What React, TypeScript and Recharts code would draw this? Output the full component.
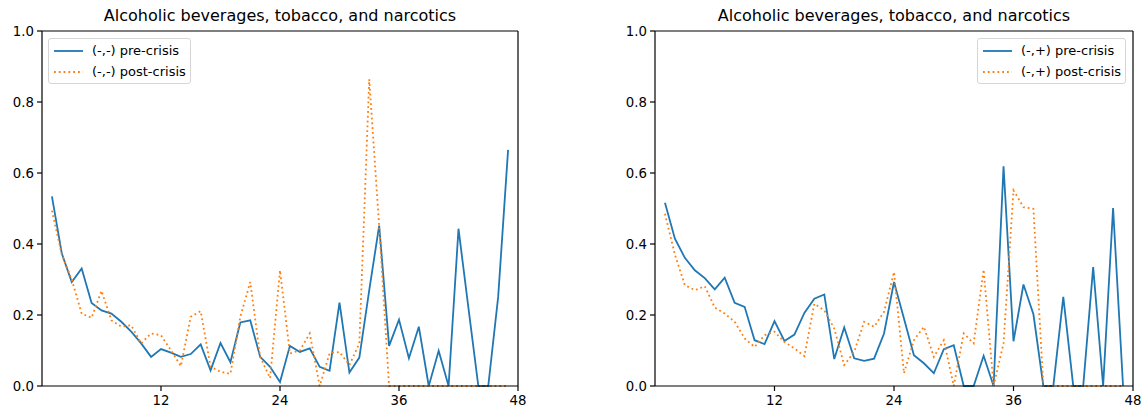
import { LineChart, Line, XAxis, YAxis, ReferenceLine } from "recharts"

// months since shock
const steps = [
  1, 2, 3, 4, 5, 6, 7, 8, 9, 10, 11, 12, 13, 14, 15, 16, 17, 18, 19, 20, 21, 22, 23, 24,
  25, 26, 27, 28, 29, 30, 31, 32, 33, 34, 35, 36, 37, 38, 39, 40, 41, 42, 43, 44, 45, 46, 47,
]

const negNegPre = [
  0.534, 0.373, 0.293, 0.331, 0.234, 0.213, 0.204, 0.181, 0.153, 0.12, 0.082, 0.104, 0.094, 0.082,
  0.09, 0.117, 0.044, 0.121, 0.067, 0.179, 0.185, 0.082, 0.054, 0.011, 0.113, 0.096, 0.106, 0.054,
  0.043, 0.235, 0.038, 0.08, 0.27, 0.452, 0.113, 0.187, 0.078, 0.167, 0, 0.099, 0, 0.443, 0.22, 0,
  0, 0.251, 0.665,
]
const negNegPost = [
  0.494, 0.37, 0.3, 0.204, 0.192, 0.268, 0.185, 0.167, 0.171, 0.12, 0.148, 0.143, 0.101, 0.056,
  0.195, 0.211, 0.054, 0.04, 0.034, 0.195, 0.293, 0.082, 0.022, 0.326, 0.092, 0.1, 0.148, 0, 0.092,
  0.096, 0.059, 0.12, 0.864, 0.45, 0, 0, 0, 0, 0, 0, 0, 0, 0, 0, 0, 0, 0,
]
const negPosPre = [
  0.516, 0.415, 0.361, 0.326, 0.304, 0.272, 0.305, 0.234, 0.223, 0.129, 0.118, 0.183, 0.127, 0.145,
  0.206, 0.246, 0.258, 0.076, 0.165, 0.078, 0.071, 0.077, 0.148, 0.293, 0.19, 0.087, 0.064, 0.036,
  0.104, 0.115, 0, 0, 0.085, 0, 0.619, 0.126, 0.286, 0.202, 0, 0, 0.251, 0, 0, 0.335, 0, 0.501, 0,
]
const negPosPost = [
  0.485, 0.37, 0.284, 0.27, 0.281, 0.221, 0.204, 0.181, 0.134, 0.11, 0.143, 0.153, 0.124, 0.106,
  0.084, 0.232, 0.213, 0.162, 0.059, 0.096, 0.181, 0.167, 0.209, 0.321, 0.036, 0.129, 0.167, 0.082,
  0.129, 0, 0.148, 0.12, 0.328, 0, 0.12, 0.551, 0.504, 0.499, 0, 0, 0, 0, 0, 0, 0, 0, 0,
]

const xTicks = [12, 24, 36, 48]
const yTicks = [0, 0.2, 0.4, 0.6, 0.8, 1.0]
const title = "Alcoholic beverages, tobacco, and narcotics"

const BLUE = "#1f77b4"
const ORANGE = "#ff7f0e"
const FONT = "DejaVu Sans, sans-serif"
const LINE_W = 1.8
const DOTS = "1.8 3"

const buildRows = (pre: number[], post: number[]) =>
  steps.map((s, i) => ({ step: s, pre: pre[i], post: post[i] }))

interface PanelProps {
  left: number
  width: number
  marginRight: number
  pre: number[]
  post: number[]
  sign: string
  legendLeft: number
}

function LegendBox({ left, sign }: { left: number; sign: string }) {
  const row = (dotted: boolean, label: string) => (
    <div style={{ display: "flex", alignItems: "center", height: 21 }}>
      <svg width={38} height={10} style={{ flex: "none" }}>
        <line
          x1={4}
          x2={33}
          y1={5}
          y2={5}
          stroke={dotted ? ORANGE : BLUE}
          strokeWidth={LINE_W}
          strokeDasharray={dotted ? DOTS : undefined}
        />
      </svg>
      <span style={{ marginLeft: 4 }}>{label}</span>
    </div>
  )
  return (
    <div
      style={{
        position: "absolute",
        left,
        top: 38,
        padding: "1px 4px 1px 1px",
        border: "1px solid #d6d6d6",
        borderRadius: 3,
        background: "rgba(255,255,255,0.8)",
        fontFamily: FONT,
        fontSize: 13,
        color: "#000",
        whiteSpace: "nowrap",
      }}
    >
      {row(false, `(-,${sign}) pre-crisis`)}
      {row(true, `(-,${sign}) post-crisis`)}
    </div>
  )
}

function Panel({ left, width, marginRight, pre, post, sign, legendLeft }: PanelProps) {
  const plotLeft = 42
  const plotRight = width - marginRight
  return (
    <div style={{ position: "absolute", left, top: 0, width, height: 412 }}>
      <div
        style={{
          position: "absolute",
          left: plotLeft,
          width: plotRight - plotLeft,
          top: 8,
          textAlign: "center",
          fontFamily: FONT,
          fontSize: 16,
          lineHeight: "16px",
          color: "#000",
          whiteSpace: "nowrap",
        }}
      >
        {title}
      </div>
      <LineChart
        width={width}
        height={412}
        data={buildRows(pre, post)}
        margin={{ top: 31, right: marginRight, bottom: 0, left: 0 }}
      >
        <XAxis
          dataKey="step"
          type="number"
          domain={[0, 48]}
          ticks={xTicks}
          allowDataOverflow
          height={26}
          stroke="#000"
          strokeWidth={1.2}
          tickSize={5}
          tickMargin={5}
          tick={{ fill: "#000", fontSize: 13.3, fontFamily: FONT }}
        />
        <YAxis
          type="number"
          domain={[0, 1]}
          ticks={yTicks}
          width={42}
          stroke="#000"
          strokeWidth={1.2}
          tickSize={5}
          tickMargin={3}
          tickFormatter={(v: number) => v.toFixed(1)}
          tick={{ fill: "#000", fontSize: 13.3, fontFamily: FONT }}
        />
        <ReferenceLine y={1} stroke="#000" strokeWidth={1.2} />
        <ReferenceLine x={48} stroke="#000" strokeWidth={1.2} />
        <Line
          dataKey="pre"
          type="linear"
          stroke={BLUE}
          strokeWidth={LINE_W}
          dot={false}
          isAnimationActive={false}
        />
        <Line
          dataKey="post"
          type="linear"
          stroke={ORANGE}
          strokeWidth={LINE_W}
          strokeDasharray={DOTS}
          dot={false}
          isAnimationActive={false}
        />
      </LineChart>
      <LegendBox left={legendLeft} sign={sign} />
    </div>
  )
}

export default function App() {
  return (
    <div
      style={{
        position: "absolute",
        left: 0,
        top: 0,
        width: 1143,
        height: 412,
        background: "#fff",
        overflow: "hidden",
      }}
    >
      <Panel left={0} width={540} marginRight={22} pre={negNegPre} post={negNegPost} sign="-" legendLeft={48} />
      <Panel left={613} width={530} marginRight={10} pre={negPosPre} post={negPosPost} sign="+" legendLeft={364} />
    </div>
  )
}
